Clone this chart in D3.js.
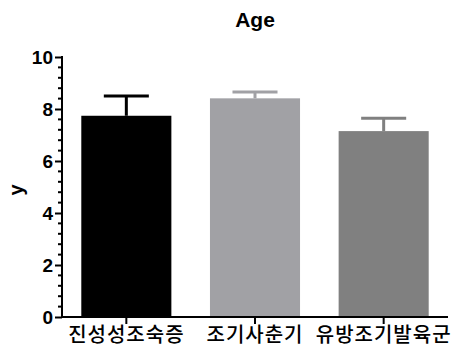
<!DOCTYPE html>
<html><head><meta charset="utf-8">
<script src="https://cdn.jsdelivr.net/npm/d3@7"></script>
<style>body{margin:0;background:#fff}svg{display:block}</style>
</head><body>
<svg id="c" width="467" height="349"></svg>
<script>
const categories = ["진성성조숙증", "조기사춘기", "유방조기발육군"];
const means = [7.74, 8.41, 7.15];
const errUpper = [8.50, 8.65, 7.64];
const barColors = ["#000000", "#a1a1a5", "#808080"];
const yTicks = [0, 2, 4, 6, 8, 10];
const title = "Age";
const yLabel = "y";

const svg = d3.select("#c");
const x0 = 62, x1 = 448, yTop = 57, yBot = 317;
const x = d3.scaleBand().domain(categories).range([x0, x1]).paddingInner(0.3).paddingOuter(0.15);
const y = d3.scaleLinear().domain([0, 10]).range([yBot, yTop]);

// bars
svg.selectAll("rect.bar").data(categories).enter().append("rect")
  .attr("x", d => x(d)).attr("width", x.bandwidth())
  .attr("y", (d, i) => y(means[i])).attr("height", (d, i) => y(0) - y(means[i]))
  .attr("fill", (d, i) => barColors[i]);

// error bars
const g = svg.append("g");
categories.forEach((c, i) => {
  const cx = x(c) + x.bandwidth() / 2;
  const capHalf = x.bandwidth() / 4;
  g.append("line").attr("x1", cx).attr("x2", cx).attr("y1", y(means[i])).attr("y2", y(errUpper[i]))
    .attr("stroke", barColors[i]).attr("stroke-width", 3);
  g.append("line").attr("x1", cx - capHalf).attr("x2", cx + capHalf).attr("y1", y(errUpper[i])).attr("y2", y(errUpper[i]))
    .attr("stroke", barColors[i]).attr("stroke-width", 3);
});

// y axis
const yAxis = d3.axisLeft(y).tickValues(yTicks).tickSize(7).tickPadding(2).tickFormat(d3.format("d"));
const ya = svg.append("g").attr("transform", `translate(${x0},0)`).call(yAxis);
ya.attr("font-size", null).attr("font-family", null);
ya.select(".domain").remove();
ya.selectAll(".tick line").attr("stroke", "#000").attr("stroke-width", 2);
ya.selectAll(".tick text").style("font-family", "'Liberation Sans', Arial, sans-serif")
  .style("font-weight", "bold").style("font-size", "19px").attr("fill", "#000").attr("dy", "0.36em");
// minor ticks
const minor = d3.range(0, 10.001, 0.4).filter(v => Math.abs(v / 2 - Math.round(v / 2)) > 0.01);
svg.append("g").selectAll("line").data(minor).enter().append("line")
  .attr("x1", x0 - 4).attr("x2", x0).attr("y1", d => y(d)).attr("y2", d => y(d))
  .attr("stroke", "#000").attr("stroke-width", 2);
svg.append("line").attr("x1", x0).attr("x2", x0).attr("y1", yTop - 1).attr("y2", yBot + 1)
  .attr("stroke", "#000").attr("stroke-width", 2);

// x axis
const xAxis = d3.axisBottom(x).tickSize(7).tickPadding(4);
const xa = svg.append("g").attr("transform", `translate(0,${yBot})`).call(xAxis);
xa.attr("font-size", null).attr("font-family", null);
xa.select(".domain").remove();
xa.selectAll(".tick line").attr("stroke", "#000").attr("stroke-width", 2);
xa.selectAll(".tick text").style("font-family", "'Noto Sans CJK KR', sans-serif")
  .style("font-size", "20px").style("font-weight", "500").style("letter-spacing", "1px")
  .attr("fill", "#000").attr("y", 25).attr("dy", "0");
svg.append("line").attr("x1", x0 - 1).attr("x2", x1).attr("y1", yBot).attr("y2", yBot)
  .attr("stroke", "#000").attr("stroke-width", 2);

// title
svg.append("text").attr("x", (x0 + x1) / 2).attr("y", 27).attr("text-anchor", "middle")
  .style("font-family", "'Liberation Sans', Arial, sans-serif").style("font-weight", "bold").style("font-size", "21px")
  .text(title);
// y label
svg.append("text").attr("transform", `translate(23,${(yTop + yBot) / 2 + 3}) rotate(-90)`).attr("text-anchor", "middle")
  .style("font-family", "'Liberation Sans', Arial, sans-serif").style("font-weight", "bold").style("font-size", "20px")
  .text(yLabel);
</script>
</body></html>
